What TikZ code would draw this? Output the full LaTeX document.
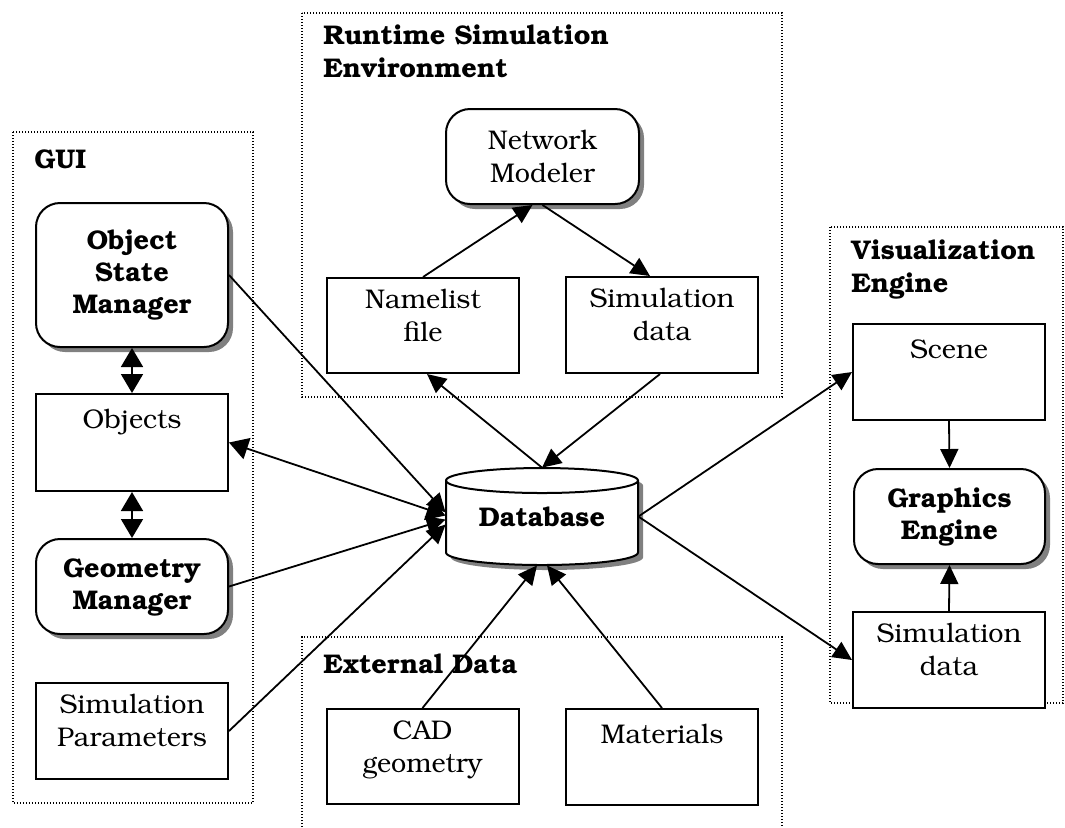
\documentclass[tikz,border=0pt]{standalone}
\IfFileExists{t1pbk.fd}{\usepackage[T1]{fontenc}\renewcommand{\rmdefault}{pbk}}{}
\usetikzlibrary{arrows.meta,shadows,calc}

\tikzset{
  basefont/.style={font=\fontsize{13.5}{16.5}\selectfont},
  group/.style={line width=0.6pt, dash pattern=on 0.6pt off 0.9pt},
  grouptitle/.style={font=\fontsize{13.5}{16.5}\selectfont\bfseries,
    anchor=north west, align=left, inner sep=0pt, execute at begin node=\strut},
  rectbox/.style={draw, fill=white, line width=1pt, minimum width=96pt,
    minimum height=48pt, inner sep=0pt},
  boxtext/.style={basefont, anchor=north, yshift=-6pt, align=center,
    inner sep=0pt, execute at begin node=\strut},
  roundbox/.style={draw, fill=white, line width=1pt, rounded corners=12pt,
    minimum width=96pt, minimum height=48pt, inner sep=0pt, align=center,
    font=\fontsize{13.5}{16}\selectfont\bfseries,
    drop shadow={shadow xshift=2.5pt, shadow yshift=-2.5pt, fill=black!50, opacity=1}},
  plainround/.style={roundbox, font=\fontsize{13.5}{16.5}\selectfont},
  conn/.style={line width=0.9pt, -{Triangle[length=9.5pt, width=9pt]}},
  biconn/.style={line width=0.9pt, {Triangle[length=9.5pt, width=11pt]}-{Triangle[length=9.5pt, width=11pt]}}
}

\begin{document}
\begin{tikzpicture}[x=0.5pt, y=-0.5pt]
\useasboundingbox (0,0) rectangle (1065,827);

% group frames
\draw[group] (13,132) rectangle (253,803);
\draw[group] (302,13) rectangle (782,397);
\draw[group] (830,227) rectangle (1063,703);
\draw[group] (302,860) -- (302,637) -- (782,637) -- (782,860);

\node[grouptitle] (t-gui) at (34,145) {GUI};
\node[grouptitle] (t-rt) at (323,25) {Runtime Simulation\\Environment};
\node[grouptitle] (t-vis) at (851,240) {Visualization\\Engine};
\node[grouptitle] (t-ext) at (323,650) {External Data};

% GUI column
\node[roundbox, minimum height=72pt] (osm) at (132,275) {Object\\State\\Manager};
\node[rectbox, minimum height=48.5pt] (objects) at (132,442.5) {};
\node[boxtext] (objects-t) at (objects.north) {Objects};
\node[roundbox, minimum height=47.5pt] (gm) at (132,586.5) {Geometry\\Manager};
\node[rectbox] (sp) at (132,731) {};
\node[boxtext] (sp-t) at (sp.north) {Simulation\\Parameters};

% runtime simulation environment
\node[plainround, minimum width=96.5pt, minimum height=47.5pt] (nm) at (542.5,156.5) {Network\\Modeler};
\node[rectbox, minimum height=47.5pt] (nl) at (423,325.5) {};
\node[boxtext] (nl-t) at (nl.north) {Namelist\\file};
\node[rectbox] (sdt) at (662,325) {};
\node[boxtext] (sdt-t) at (sdt.north) {Simulation\\data};

% visualization engine
\node[rectbox] (scene) at (949,372) {};
\node[boxtext] (scene-t) at (scene.north) {Scene};
\node[roundbox, minimum width=95.5pt, minimum height=47.5pt] (ge) at (949.5,516.5) {Graphics\\Engine};
\node[rectbox] (sdr) at (949,660) {};
\node[boxtext] (sdr-t) at (sdr.north) {Simulation\\data};

% external data
\node[rectbox, minimum height=47.5pt] (cad) at (422.5,756.5) {};
\node[boxtext] (cad-t) at (cad.north) {CAD\\geometry};
\node[rectbox] (mat) at (662,757) {};
\node[boxtext] (mat-t) at (mat.north) {Materials};

% database cylinder (y axis points down, so arcs run through 90 for the lower half)
\fill[black!50] (451,485.5) -- (451,557.5) arc (180:0:96 and 12.5)
  -- (643,485.5) arc (0:-180:96 and 12.5) -- cycle;
\draw[line width=1pt, fill=white] (446,480.5) -- (446,552.5) arc (180:0:96 and 12.5)
  -- (638,480.5) arc (0:-180:96 and 12.5) -- cycle;
\draw[line width=1pt] (446,480.5) arc (180:0:96 and 12.5);
\node[inner sep=0pt, minimum width=96pt, minimum height=48.5pt,
  font=\fontsize{13.5}{16.5}\selectfont\bfseries] (db) at (542,516.5) {Database};

% connectors
\draw[biconn] (osm.south) -- (objects.north);
\draw[biconn] (objects.south) -- (gm.north);
\draw[conn] (osm.east) -- ($(db.west)+(0,-4)$);
\draw[biconn] (objects.east) -- ($(db.west)+(0,-1)$);
\draw[conn] (gm.east) -- ($(db.west)+(0,3)$);
\draw[conn] (sp.east) -- ($(db.west)+(0,8)$);

\draw[conn] (db.north) -- ($(nl.south)+(4,0)$);
\draw[conn] ($(sdt.south)+(-2,0)$) -- (db.north);
\draw[conn] (nl.north) -- ($(nm.south)+(-10,0)$);
\draw[conn] (nm.south) -- ($(sdt.north)+(-12,0)$);

\draw[conn] (db.east) -- (scene.west);
\draw[conn] (db.east) -- (sdr.west);
\draw[conn] (scene.south) -- (ge.north);
\draw[conn] (sdr.north) -- (ge.south);

\draw[conn] (cad.north) -- ($(db.south)+(-5,0)$);
\draw[conn] (mat.north) -- ($(db.south)+(5,0)$);
\end{tikzpicture}
\end{document}
